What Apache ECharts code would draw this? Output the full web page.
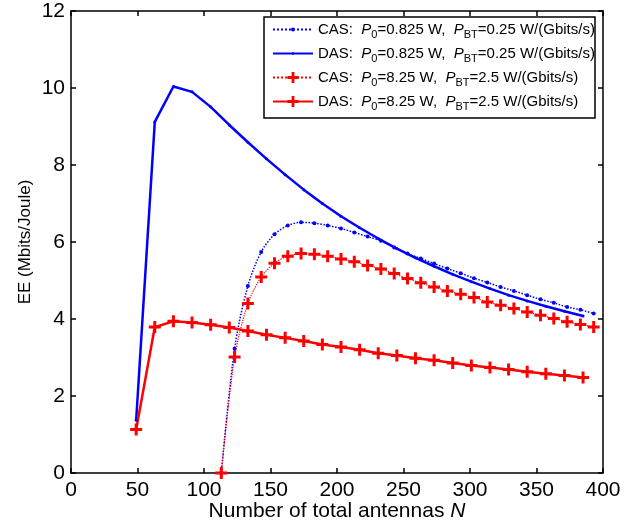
<!DOCTYPE html>
<html>
<head>
<meta charset="utf-8">
<script src="https://cdn.jsdelivr.net/npm/echarts@6/dist/echarts.min.js"></script>
<style>
  html, body { margin: 0; padding: 0; background: #fff; }
  #chart { width: 643px; height: 525px; }
</style>
</head>
<body>
<div id="chart"></div>
<script>
// N values (number of total antennas)
const dasN = [49, 63, 77, 91, 105, 119, 133, 147, 161, 175, 189, 203, 217, 231, 245, 259, 273, 287, 301, 315, 329, 343, 357, 371, 385];
const casN = [113, 123, 133, 143, 153, 163, 173, 183, 193, 203, 213, 223, 233, 243, 253, 263, 273, 283, 293, 303, 313, 323, 333, 343, 353, 363, 373, 383, 393];

// EE (Mbits/Joule)
const casLow = [0, 3.23, 4.86, 5.74, 6.20, 6.43, 6.51, 6.49, 6.43, 6.35, 6.25, 6.14, 6.03, 5.86, 5.70, 5.57, 5.44, 5.31, 5.19, 5.06, 4.95, 4.83, 4.73, 4.62, 4.51, 4.42, 4.31, 4.24, 4.14];
const dasLow = [1.37, 9.12, 10.04, 9.90, 9.51, 9.04, 8.59, 8.16, 7.75, 7.36, 7.00, 6.67, 6.37, 6.09, 5.83, 5.59, 5.37, 5.16, 4.97, 4.79, 4.62, 4.47, 4.33, 4.20, 4.08];
const casHigh = [0, 3.01, 4.40, 5.09, 5.45, 5.63, 5.70, 5.68, 5.63, 5.56, 5.49, 5.39, 5.30, 5.18, 5.05, 4.94, 4.83, 4.73, 4.64, 4.56, 4.44, 4.36, 4.27, 4.18, 4.10, 4.01, 3.93, 3.86, 3.79];
const dasHigh = [1.13, 3.79, 3.94, 3.91, 3.85, 3.78, 3.69, 3.59, 3.51, 3.43, 3.34, 3.27, 3.20, 3.11, 3.05, 2.98, 2.93, 2.86, 2.79, 2.74, 2.69, 2.63, 2.58, 2.53, 2.48];

const xTicks = [0, 400, 50];
const yTicks = [0, 12, 2];

const legendText = {
  casLow: '{n|CAS:  }{i|P}{s|0}{n|=0.825 W,  }{i|P}{s|BT}{n|=0.25 W/(Gbits/s)}',
  dasLow: '{n|DAS:  }{i|P}{s|0}{n|=0.825 W,  }{i|P}{s|BT}{n|=0.25 W/(Gbits/s)}',
  casHigh: '{n|CAS:  }{i|P}{s|0}{n|=8.25 W,  }{i|P}{s|BT}{n|=2.5 W/(Gbits/s)}',
  dasHigh: '{n|DAS:  }{i|P}{s|0}{n|=8.25 W,  }{i|P}{s|BT}{n|=2.5 W/(Gbits/s)}',
};

const FONT = 'Liberation Sans, Arial, Helvetica, sans-serif';
const BLUE = '#0000ff';
const RED = '#ff0000';
const PLUS = 'path://M4.5,0H7.5V4.5H12V7.5H7.5V12H4.5V7.5H0V4.5H4.5Z';

const pairs = (xs, ys) => xs.map((x, i) => [x, ys[i]]);

const richLegend = {
  n: { fontSize: 15, fontFamily: FONT, color: '#000', lineHeight: 22 },
  i: { fontSize: 15, fontFamily: FONT, color: '#000', fontStyle: 'italic', lineHeight: 22 },
  s: { fontSize: 11, fontFamily: FONT, color: '#000', lineHeight: 12, verticalAlign: 'bottom' },
};

// one legend per row so each can have its own marker size
function legendRow(name, top, h) {
  return {
    data: [name],
    left: 272,
    top: top,
    orient: 'vertical',
    padding: 0,
    itemWidth: 40,
    itemHeight: h,
    z: 20,
    selectedMode: false,
    formatter: (nm) => legendText[nm],
    textStyle: { rich: richLegend },
  };
}

const axisLine = { show: true, onZero: false, lineStyle: { color: '#000', width: 1.5 } };
const axisTick = { show: true, inside: true, length: 5, lineStyle: { color: '#000', width: 1.5 } };

const option = {
  animation: false,
  backgroundColor: '#fff',
  grid: { left: 71, right: 40, top: 11, bottom: 52, outerBoundsMode: 'none', containLabel: false },
  graphic: [{
    type: 'rect',
    z: 10,
    shape: { x: 264, y: 17, width: 331, height: 101 },
    style: { fill: '#fff', stroke: '#000', lineWidth: 1.5 },
  }],
  legend: [
    legendRow('casLow', 22, 5),
    legendRow('dasLow', 46, 3),
    legendRow('casHigh', 70, 14),
    legendRow('dasHigh', 94, 14),
  ],
  xAxis: [
    {
      type: 'value', min: xTicks[0], max: xTicks[1], interval: xTicks[2], position: 'bottom',
      axisLine, axisTick, splitLine: { show: false },
      axisLabel: { color: '#000', fontSize: 21, fontFamily: FONT, margin: 7 },
      name: 'Number of total antennas {i|N}', nameLocation: 'middle', nameGap: 28,
      nameMoveOverlap: false,
      nameTextStyle: {
        color: '#000', fontSize: 21, fontFamily: FONT,
        rich: { i: { fontSize: 21, fontFamily: FONT, fontStyle: 'italic', color: '#000' } },
      },
    },
    {
      type: 'value', min: xTicks[0], max: xTicks[1], interval: xTicks[2], position: 'top',
      axisLine, axisTick, splitLine: { show: false }, axisLabel: { show: false },
    },
  ],
  yAxis: [
    {
      type: 'value', min: yTicks[0], max: yTicks[1], interval: yTicks[2], position: 'left',
      axisLine, axisTick, splitLine: { show: false },
      axisLabel: { color: '#000', fontSize: 21, fontFamily: FONT, margin: 6 },
      name: 'EE (Mbits/Joule)', nameLocation: 'middle', nameGap: 37, nameRotate: 90,
      nameMoveOverlap: false,
      nameTextStyle: { color: '#000', fontSize: 17, fontFamily: FONT },
    },
    {
      type: 'value', min: yTicks[0], max: yTicks[1], interval: yTicks[2], position: 'right',
      axisLine, axisTick, splitLine: { show: false }, axisLabel: { show: false },
    },
  ],
  series: [
    {
      name: 'casLow', type: 'line', data: pairs(casN, casLow),
      color: BLUE, smooth: 0.3, clip: false,
      symbol: 'circle', symbolSize: 4, itemStyle: { color: BLUE, borderWidth: 0 },
      lineStyle: { color: BLUE, width: 1.5, type: 'dotted' },
    },
    {
      name: 'dasLow', type: 'line', data: pairs(dasN, dasLow),
      color: BLUE, clip: false,
      symbol: 'circle', symbolSize: 3, itemStyle: { color: BLUE, borderWidth: 0 },
      lineStyle: { color: BLUE, width: 2.5 },
    },
    {
      name: 'casHigh', type: 'line', data: pairs(casN, casHigh),
      color: RED, smooth: 0.3, clip: false,
      symbol: PLUS, symbolSize: 12, itemStyle: { color: RED, borderWidth: 0 },
      lineStyle: { color: RED, width: 1.2, type: 'dotted' },
    },
    {
      name: 'dasHigh', type: 'line', data: pairs(dasN, dasHigh),
      color: RED, clip: false,
      symbol: PLUS, symbolSize: 12, itemStyle: { color: RED, borderWidth: 0 },
      lineStyle: { color: RED, width: 2.5 },
    },
  ],
};

const myChart = echarts.init(document.getElementById('chart'));
myChart.setOption(option);
</script>
</body>
</html>
